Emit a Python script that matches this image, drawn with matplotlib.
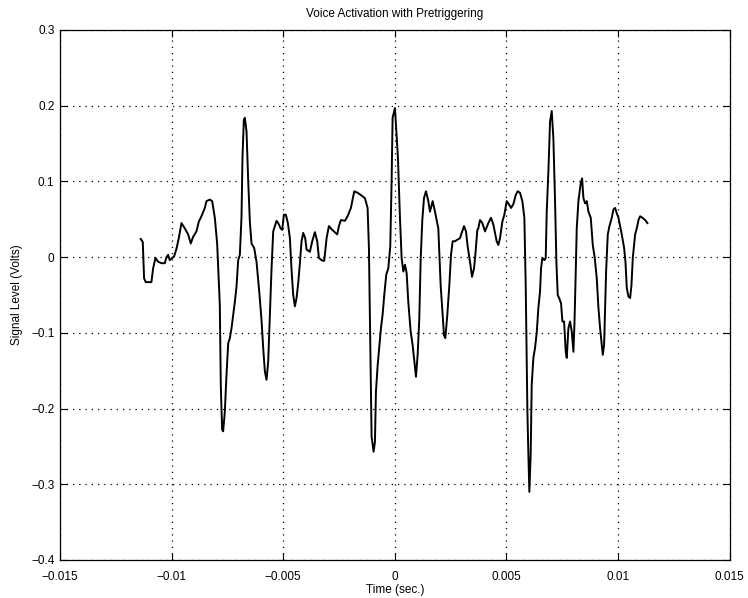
import matplotlib
matplotlib.use("Agg")
import matplotlib.pyplot as plt

# time in milliseconds, signal level in volts
time_ms = [
    -11.381, -11.291, -11.232, -11.157, -10.903, -10.828, -10.723, -10.604, -10.454, -10.305,
    -10.230, -10.155, -10.081, -9.976, -9.886, -9.782, -9.677, -9.557, -9.408, -9.258,
    -9.139, -9.034, -8.885, -8.780, -8.661, -8.511, -8.436, -8.287, -8.182, -8.063,
    -7.958, -7.839, -7.794, -7.734,
    -7.689, -7.614, -7.539, -7.464, -7.390, -7.315, -7.240, -7.165, -7.091, -7.016,
    -6.941, -6.866, -6.822, -6.762, -6.717, -6.642, -6.568, -6.493, -6.418, -6.298,
    -6.194, -6.074, -5.970, -5.895, -5.820, -5.745, -5.671, -5.596, -5.521, -5.446,
    -5.372, -5.297, -5.222, -5.118, -5.043, -4.968, -4.878, -4.789, -4.699, -4.624,
    -4.550, -4.475, -4.400, -4.325, -4.251, -4.176, -4.101, -4.012,
    -3.952, -3.803, -3.698, -3.579, -3.474, -3.399, -3.280, -3.160, -3.055, -2.951,
    -2.801, -2.577, -2.502, -2.413, -2.233, -2.114, -1.964, -1.815, -1.665, -1.516,
    -1.337, -1.217, -1.157, -1.097, -1.038, -0.948, -0.888, -0.843, -0.769, -0.679,
    -0.619, -0.544, -0.470, -0.380, -0.290, -0.201, -0.141, -0.096,
    0.009, 0.144, 0.233, 0.308, 0.383, 0.458, 0.532, 0.607, 0.712, 0.801,
    0.861, 0.951, 1.026, 1.100, 1.160, 1.235, 1.310, 1.399, 1.504, 1.579,
    1.698, 1.803, 1.952, 2.057, 2.147, 2.206, 2.266, 2.356, 2.446, 2.520,
    2.595, 2.700, 2.804, 2.924, 2.999, 3.103, 3.193, 3.268, 3.372, 3.462,
    3.552, 3.611, 3.701,
    3.745, 3.820, 3.925, 4.044, 4.194, 4.313, 4.418, 4.567, 4.642, 4.717,
    4.822, 4.911, 5.016, 5.091, 5.210, 5.315, 5.420, 5.509, 5.614, 5.718,
    5.808, 5.868, 5.943, 5.988, 6.032, 6.092, 6.137, 6.212, 6.286, 6.361,
    6.436, 6.511, 6.555, 6.615, 6.705, 6.765, 6.810, 6.884, 6.959, 7.034,
    7.108, 7.183, 7.243, 7.303, 7.378, 7.452, 7.512,
    7.587, 7.662, 7.707, 7.782, 7.856, 7.931, 8.006, 8.051, 8.096, 8.155,
    8.230, 8.335, 8.395, 8.454, 8.529, 8.604, 8.679, 8.783, 8.873, 8.962,
    9.052, 9.127, 9.202, 9.276, 9.321, 9.381, 9.426, 9.471, 9.545, 9.620,
    9.725, 9.800, 9.874, 9.949, 10.024, 10.099, 10.173, 10.278, 10.338, 10.398,
    10.472, 10.547, 10.607, 10.667, 10.771, 10.846, 10.921, 10.996, 11.100, 11.220,
    11.324,
]

level = [
    0.024, 0.020, -0.028, -0.033, -0.033, -0.015, -0.001, -0.006, -0.008, -0.008,
    0.000, 0.003, -0.004, -0.001, 0.001, 0.011, 0.025, 0.045, 0.038, 0.030,
    0.018, 0.027, 0.034, 0.047, 0.054, 0.065, 0.074, 0.076, 0.074, 0.052,
    0.018, -0.063, -0.171, -0.228,
    -0.230, -0.204, -0.155, -0.114, -0.107, -0.094, -0.076, -0.059, -0.039, -0.004,
    0.003, 0.054, 0.133, 0.181, 0.184, 0.166, 0.102, 0.047, 0.018, 0.012,
    -0.006, -0.045, -0.083, -0.120, -0.151, -0.162, -0.138, -0.076, -0.015, 0.034,
    0.041, 0.048, 0.045, 0.038, 0.036, 0.056, 0.056, 0.045, 0.025, -0.017,
    -0.050, -0.065, -0.054, -0.034, -0.008, 0.021, 0.032, 0.025,
    0.010, 0.007, 0.021, 0.033, 0.021, -0.001, -0.004, -0.005, 0.025, 0.041,
    0.036, 0.030, 0.041, 0.049, 0.048, 0.054, 0.065, 0.087, 0.085, 0.082,
    0.078, 0.065, 0.012, -0.118, -0.237, -0.257, -0.244, -0.178, -0.144, -0.114,
    -0.094, -0.076, -0.050, -0.023, -0.015, 0.014, 0.100, 0.184,
    0.197, 0.131, 0.052, -0.001, -0.019, -0.010, -0.021, -0.059, -0.098, -0.116,
    -0.133, -0.158, -0.129, -0.081, -0.004, 0.049, 0.078, 0.087, 0.074, 0.060,
    0.074, 0.060, 0.038, -0.037, -0.078, -0.103, -0.107, -0.076, -0.037, 0.003,
    0.021, 0.021, 0.023, 0.025, 0.032, 0.041, 0.034, 0.014, -0.006, -0.026,
    -0.015, 0.003, 0.036,
    0.038, 0.049, 0.045, 0.034, 0.045, 0.052, 0.043, 0.021, 0.016, 0.025,
    0.047, 0.056, 0.074, 0.071, 0.065, 0.070, 0.082, 0.087, 0.085, 0.074,
    0.052, -0.037, -0.202, -0.261, -0.310, -0.259, -0.169, -0.133, -0.120, -0.100,
    -0.067, -0.045, -0.015, -0.001, -0.004, -0.001, 0.060, 0.113, 0.179, 0.193,
    0.157, 0.074, -0.006, -0.050, -0.055, -0.061, -0.085,
    -0.085, -0.125, -0.133, -0.094, -0.085, -0.098, -0.125, -0.089, -0.037, 0.038,
    0.074, 0.098, 0.104, 0.078, 0.071, 0.074, 0.060, 0.052, 0.016, -0.001,
    -0.028, -0.067, -0.094, -0.116, -0.129, -0.116, -0.067, -0.019, 0.030, 0.041,
    0.052, 0.063, 0.065, 0.058, 0.052, 0.041, 0.030, 0.012, -0.006, -0.041,
    -0.052, -0.054, -0.037, -0.001, 0.030, 0.038, 0.049, 0.054, 0.052, 0.049,
    0.045,
]

xticks = [-0.015, -0.01, -0.005, 0, 0.005, 0.01, 0.015]
xtick_labels = ["\u22120.015", "\u22120.01", "\u22120.005", "0", "0.005", "0.01", "0.015"]
yticks = [-0.4, -0.3, -0.2, -0.1, 0, 0.1, 0.2, 0.3]
ytick_labels = ["\u22120.4", "\u22120.3", "\u22120.2", "\u22120.1", "0", "0.1", "0.2", "0.3"]

plt.rcParams['font.family'] = ['Liberation Sans', 'DejaVu Sans']

fig = plt.figure(figsize=(7.48, 5.98), dpi=100)
ax = fig.add_axes([60 / 748, 1 - 560 / 598, (729.5 - 60) / 748, (560 - 30) / 598])

t_sec = [v / 1000.0 for v in time_ms]
ax.plot(t_sec, level, color='black', linewidth=1.4)

ax.set_xlim(-0.015, 0.015)
ax.set_ylim(-0.4, 0.3)
ax.set_xticks(xticks)
ax.set_xticklabels(xtick_labels)
ax.set_yticks(yticks)
ax.set_yticklabels(ytick_labels)
ax.tick_params(direction='in', length=5, width=0.8, top=True, right=True,
               labelsize=8.5, colors='black')
ax.tick_params(axis='x', pad=8)
ax.tick_params(axis='y', pad=4)
ax.grid(True, color='black', linestyle=(0, (1, 4)), linewidth=0.9)
for s in ax.spines.values():
    s.set_linewidth(0.9)
    s.set_color('black')

ax.set_title("Voice Activation with Pretriggering", fontsize=8.5, pad=9)
ax.set_xlabel("Time (sec.)", fontsize=8.5, labelpad=1)
ax.set_ylabel("Signal Level (Volts)", fontsize=8.5, labelpad=6)

fig.savefig("out.png", dpi=100, facecolor='white')
